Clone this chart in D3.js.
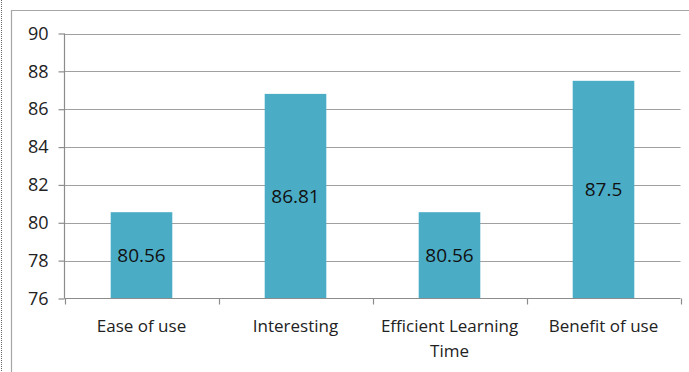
<!DOCTYPE html>
<html><head><meta charset="utf-8">
<script src="https://cdn.jsdelivr.net/npm/d3@7"></script>
<style>
html,body{margin:0;padding:0;background:#fff;}
svg{display:block;}
text{font-family:"Open Sans",sans-serif;}
</style></head>
<body>
<svg id="c" width="689" height="372"></svg>
<script>
const categories = ["Ease of use", "Interesting", "Efficient Learning Time", "Benefit of use"];
const values = [80.56, 86.81, 80.56, 87.5];
const valueLabels = ["80.56", "86.81", "80.56", "87.5"];
const yTicks = [76, 78, 80, 82, 84, 86, 88, 90];

const svg = d3.select("#c");
const W = 689, H = 372;
const m = {left: 64.5, right: 680.5, top: 33.5, bottom: 298.5};

// outer frames
svg.append("line").attr("x1",1.5).attr("x2",1.5).attr("y1",0).attr("y2",H)
  .attr("stroke","#666").attr("stroke-width",1).attr("stroke-dasharray","1,1");
svg.append("path").attr("d",`M11.5,${H} V10.5 H${W}`)
  .attr("fill","none").attr("stroke","#a6a6a6").attr("stroke-width",1.2);

const x = d3.scaleBand().domain(categories).range([m.left, m.right]).paddingInner(0.6).paddingOuter(0.3);
const y = d3.scaleLinear().domain([76, 90]).range([m.bottom, m.top]);

// gridlines
svg.append("g").selectAll("line").data(yTicks.filter(t=>t!==76)).join("line")
  .attr("x1", m.left).attr("x2", m.right)
  .attr("y1", d=>Math.round(y(d))+0.5).attr("y2", d=>Math.round(y(d))+0.5)
  .attr("stroke","#a0a0a0").attr("stroke-width",1.2);

// y axis
const ya = svg.append("g").attr("transform",`translate(${m.left},0)`)
  .call(d3.axisLeft(y).tickValues(yTicks).tickSize(6).tickPadding(10).tickFormat(d3.format("d")));
ya.select(".domain").attr("stroke","#8c8c8c").attr("stroke-width",1.2).attr("d",`M0,${m.top}V${m.bottom}`);
ya.selectAll(".tick line").attr("stroke","#8c8c8c").attr("stroke-width",1.2);
ya.selectAll(".tick text").attr("font-size","18px").attr("fill","#222").attr("font-family","'Open Sans',sans-serif");

// bars
svg.append("g").selectAll("rect").data(values).join("rect")
  .attr("x",(d,i)=>x(categories[i])).attr("width",x.bandwidth())
  .attr("y",d=>y(d)).attr("height",d=>m.bottom - y(d))
  .attr("fill","#4bacc6");

// x axis
const xs = d3.scaleLinear().domain([0,4]).range([m.left, m.right]);
const xg = svg.append("g");
xg.append("line").attr("x1",m.left).attr("x2",m.right).attr("y1",m.bottom).attr("y2",m.bottom)
  .attr("stroke","#8c8c8c").attr("stroke-width",1.2);
xg.selectAll("line.t").data(d3.range(5)).join("line").attr("class","t")
  .attr("x1",d=>Math.round(xs(d))+0.5).attr("x2",d=>Math.round(xs(d))+0.5)
  .attr("y1",m.bottom).attr("y2",m.bottom+6).attr("stroke","#8c8c8c").attr("stroke-width",1.2);

// category labels (wrap)
function wrapWords(s){ return s === "Efficient Learning Time" ? ["Efficient Learning","Time"] : [s]; }
const cl = svg.append("g").selectAll("text").data(categories).join("text")
  .attr("x", d=>x(d)+x.bandwidth()/2).attr("y", 332)
  .attr("text-anchor","middle").attr("font-size","17px").attr("fill","#222");
cl.each(function(d){
  const lines = wrapWords(d);
  d3.select(this).selectAll("tspan").data(lines).join("tspan")
    .attr("x", x(d)+x.bandwidth()/2).attr("dy",(l,i)=>i===0?0:25).text(l=>l);
});

// value labels centered in bars
svg.append("g").selectAll("text").data(values).join("text")
  .attr("x",(d,i)=>x(categories[i])+x.bandwidth()/2)
  .attr("y",d=>(y(d)+m.bottom)/2)
  .attr("dy","0.35em").attr("text-anchor","middle").attr("font-size","19px").attr("fill","#111")
  .text((d,i)=>valueLabels[i]);
</script>
</body></html>
